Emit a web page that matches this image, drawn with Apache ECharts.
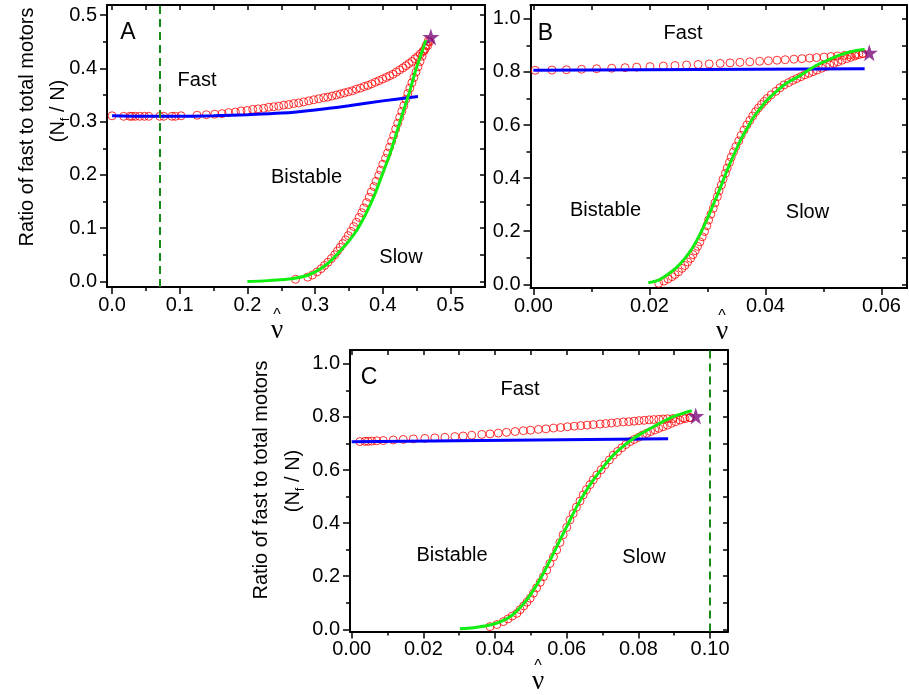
<!DOCTYPE html>
<html><head><meta charset="utf-8">
<script src="https://cdn.jsdelivr.net/npm/echarts@6/dist/echarts.min.js"></script>
<style>html,body{margin:0;padding:0;background:#fff}#c{width:909px;height:695px}</style>
</head><body><div id="c"></div>
<script>
// ---------------- DATA ----------------
// Panel A
const A_UPPER_V = [0,0.0172,0.0261,0.0295,0.0345,0.0409,0.0478,0.0542,0.0704,0.0763,0.0886,0.0936,0.1019,0.1256,0.1393,0.1517,0.1625,0.1723,0.1822,0.1905,0.1994,0.2078,0.2157,0.2240,0.2314,0.2388,0.2462,0.2536,0.2610,0.2683,0.2757,0.2831,0.2905,0.2979,0.3053,0.3127,0.3186,0.3250,0.3314,0.3373,0.3432,0.3491,0.3550,0.3609,0.3668,0.3727,0.3781,0.3836,0.3890,0.3944,0.3998,0.4052,0.4101,0.4151,0.4200,0.4249,0.4298,0.4343,0.4387,0.4431,0.4476,0.4515,0.4554,0.4594,0.4628,0.4663,0.4690];
const A_UPPER_Y = [0.311,0.310,0.310,0.310,0.310,0.310,0.310,0.310,0.310,0.310,0.310,0.310,0.311,0.312,0.313,0.314,0.315,0.317,0.318,0.320,0.321,0.323,0.324,0.325,0.327,0.328,0.329,0.331,0.332,0.334,0.335,0.337,0.339,0.341,0.343,0.345,0.346,0.348,0.350,0.352,0.354,0.356,0.358,0.361,0.363,0.366,0.368,0.371,0.374,0.377,0.380,0.383,0.386,0.389,0.393,0.397,0.401,0.405,0.409,0.413,0.418,0.422,0.427,0.432,0.437,0.443,0.450];
const A_LOWER_V = [0.271,0.289,0.296,0.303,0.309,0.314,0.319,0.324,0.329,0.333,0.337,0.341,0.345,0.349,0.353,0.357,0.361,0.365,0.369,0.372,0.376,0.380,0.383,0.387,0.390,0.394,0.397,0.400,0.404,0.407,0.410,0.413,0.416,0.419,0.422,0.425,0.428,0.431,0.434,0.437,0.440,0.443,0.446,0.449,0.452,0.455,0.458,0.461,0.464,0.467];
const A_LOWER_Y = [0.004,0.008,0.012,0.018,0.024,0.030,0.036,0.043,0.050,0.057,0.064,0.071,0.078,0.086,0.094,0.103,0.111,0.120,0.129,0.138,0.148,0.158,0.168,0.178,0.188,0.199,0.209,0.220,0.231,0.241,0.252,0.263,0.274,0.286,0.297,0.308,0.319,0.330,0.342,0.353,0.363,0.373,0.383,0.393,0.403,0.413,0.423,0.433,0.443,0.451];
const A_GREEN_V = [0.200,0.225,0.249,0.270,0.288,0.300,0.312,0.325,0.337,0.350,0.362,0.375,0.387,0.399,0.411,0.421,0.431,0.440,0.448,0.456,0.4636];
const A_GREEN_Y = [0.000,0.001,0.003,0.006,0.011,0.018,0.027,0.041,0.057,0.076,0.097,0.127,0.160,0.200,0.241,0.282,0.322,0.358,0.394,0.424,0.453];
const A_BLUE_V = [0,0.05,0.10,0.15,0.20,0.25,0.30,0.35,0.40,0.452];
const A_BLUE_Y = [0.311,0.310,0.310,0.311,0.313,0.316,0.322,0.330,0.339,0.347];
const A_STAR = [0.471, 0.459];
const A_DASH = 0.066;

// Panel B
const B_UPPER_V = [0.0003,0.0032,0.0057,0.0083,0.0109,0.0135,0.0158,0.0178,0.0201,0.0224,0.0244,0.0264,0.0284,0.0303,0.0322,0.0339,0.0356,0.0373,0.0390,0.0405,0.0420,0.0434,0.0449,0.0463,0.0476,0.0488,0.0501,0.0513,0.0524,0.0536,0.0546,0.0556,0.0567];
const B_UPPER_Y = [0.806,0.807,0.808,0.810,0.812,0.814,0.816,0.818,0.820,0.822,0.824,0.826,0.828,0.830,0.832,0.834,0.836,0.838,0.840,0.842,0.844,0.846,0.848,0.850,0.852,0.854,0.856,0.858,0.860,0.862,0.864,0.866,0.869];
const B_LOWER_V = [0.0216,0.0225,0.0232,0.0239,0.0244,0.0250,0.0256,0.0261,0.0266,0.0271,0.0275,0.0279,0.0283,0.0287,0.0291,0.0295,0.0299,0.0302,0.0306,0.0310,0.0313,0.0317,0.0320,0.0324,0.0327,0.0331,0.0334,0.0338,0.0341,0.0345,0.0349,0.0354,0.0358,0.0363,0.0368,0.0373,0.0378,0.0383,0.0388,0.0393,0.0398,0.0403,0.0410,0.0418,0.0425,0.0432,0.0440,0.0447,0.0454,0.0461,0.0468,0.0475,0.0482,0.0489,0.0497,0.0504,0.0511,0.0518,0.0525,0.0532,0.0540,0.0547,0.0554,0.0561,0.0568];
const B_LOWER_Y = [0.004,0.012,0.020,0.029,0.037,0.047,0.060,0.071,0.084,0.098,0.112,0.127,0.143,0.160,0.179,0.199,0.221,0.242,0.264,0.286,0.307,0.330,0.352,0.374,0.396,0.418,0.438,0.459,0.479,0.499,0.519,0.540,0.561,0.581,0.600,0.617,0.634,0.650,0.664,0.677,0.689,0.700,0.714,0.727,0.740,0.751,0.760,0.768,0.775,0.782,0.789,0.795,0.801,0.807,0.814,0.820,0.826,0.832,0.838,0.844,0.850,0.855,0.860,0.865,0.869];
const B_GREEN_V = [0.0198,0.0215,0.0230,0.0245,0.0259,0.0274,0.0288,0.0300,0.0311,0.0323,0.0334,0.0346,0.0357,0.0369,0.0380,0.0392,0.0403,0.0418,0.0432,0.0447,0.0461,0.0475,0.0489,0.0504,0.0518,0.0532,0.0547,0.0571];
const B_GREEN_Y = [0.006,0.015,0.035,0.060,0.092,0.137,0.192,0.248,0.305,0.368,0.430,0.490,0.543,0.590,0.631,0.665,0.694,0.725,0.751,0.771,0.788,0.808,0.826,0.841,0.855,0.866,0.876,0.885];
const B_BLUE_V = [0, 0.0571];
const B_BLUE_Y = [0.806, 0.812];
const B_STAR = [0.0579, 0.872];

// Panel C
const C_UPPER_V = [0.0023,0.0037,0.0046,0.0056,0.0070,0.0088,0.0116,0.0144,0.0172,0.0204,0.0232,0.0260,0.0288,0.0311,0.0335,0.0363,0.0386,0.0409,0.0432,0.0456,0.0479,0.0499,0.0521,0.0542,0.0563,0.0583,0.0602,0.0621,0.0639,0.0657,0.0674,0.0693,0.0709,0.0725,0.0741,0.0758,0.0773,0.0788,0.0802,0.0816,0.0830,0.0843,0.0857,0.0869,0.0881,0.0897,0.0925,0.0944];
const C_UPPER_Y = [0.707,0.708,0.708,0.709,0.710,0.711,0.713,0.715,0.717,0.719,0.721,0.723,0.726,0.728,0.731,0.734,0.736,0.739,0.742,0.745,0.748,0.750,0.753,0.755,0.758,0.760,0.763,0.765,0.767,0.769,0.771,0.773,0.775,0.777,0.779,0.781,0.782,0.784,0.786,0.787,0.789,0.790,0.791,0.792,0.793,0.794,0.796,0.798];
const C_LOWER_V = [0.0386,0.0405,0.0423,0.0436,0.0448,0.0461,0.0470,0.0480,0.0489,0.0498,0.0507,0.0516,0.0526,0.0535,0.0544,0.0553,0.0563,0.0572,0.0581,0.0590,0.0600,0.0609,0.0618,0.0627,0.0637,0.0646,0.0655,0.0665,0.0674,0.0684,0.0696,0.0707,0.0719,0.0730,0.0742,0.0754,0.0765,0.0777,0.0788,0.0800,0.0811,0.0823,0.0834,0.0846,0.0857,0.0869,0.0881,0.0892,0.0904,0.0916,0.0930,0.0944];
const C_LOWER_Y = [0.010,0.018,0.029,0.039,0.050,0.060,0.074,0.088,0.102,0.117,0.136,0.156,0.177,0.198,0.223,0.248,0.273,0.299,0.327,0.356,0.384,0.412,0.436,0.460,0.483,0.506,0.526,0.545,0.563,0.581,0.601,0.620,0.638,0.656,0.670,0.684,0.696,0.707,0.715,0.723,0.731,0.738,0.745,0.751,0.757,0.763,0.769,0.776,0.782,0.788,0.793,0.797];
const C_GREEN_V = [0.0302,0.0340,0.0386,0.0414,0.0442,0.0465,0.0488,0.0512,0.0535,0.0558,0.0581,0.0605,0.0628,0.0651,0.0674,0.0702,0.0730,0.0758,0.0786,0.0814,0.0842,0.0870,0.0897,0.0923,0.0949];
const C_GREEN_Y = [0.002,0.006,0.016,0.028,0.047,0.075,0.110,0.158,0.211,0.272,0.336,0.400,0.462,0.515,0.562,0.612,0.656,0.690,0.719,0.742,0.763,0.783,0.801,0.813,0.823];
const C_BLUE_V = [0, 0.0883];
const C_BLUE_Y = [0.706, 0.718];
const C_STAR = [0.0960, 0.803];
const C_DASH = 0.10;

// Tick values
const A_X_MAJOR = [0,0.1,0.2,0.3,0.4,0.5];
const A_X_MINOR = [0.05,0.15,0.25,0.35,0.45];
const A_Y_MAJOR = [0,0.1,0.2,0.3,0.4,0.5];
const A_Y_MINOR = [0.05,0.15,0.25,0.35,0.45];
const B_X_MAJOR = [0,0.02,0.04,0.06];
const B_X_MINOR = [0.01,0.03,0.05];
const BC_Y_MAJOR = [0,0.2,0.4,0.6,0.8,1.0];
const BC_Y_MINOR = [0.1,0.3,0.5,0.7,0.9];
const C_X_MAJOR = [0,0.02,0.04,0.06,0.08,0.10];
const C_X_MINOR = [0.01,0.03,0.05,0.07,0.09];

// Texts
const Y_TITLE_1 = 'Ratio of fast to total motors';
const REGION_LABELS = ['Fast','Bistable','Slow'];
const PANEL_LETTERS = ['A','B','C'];

// ---------------- CHART ----------------
const FONT = '"Liberation Sans", Arial, sans-serif';
const SERIF = '"Liberation Serif", "DejaVu Serif", serif';
const pairs = (xs, ys) => xs.map((x, i) => [x, ys[i]]);

const RED = '#ff0000', BLUE = '#0000ff', GREEN = '#11ee11', DASHC = '#178a17', STAR = '#7a0a7a';
const STAR_PATH = 'path://M50,0 L61.8,35.4 L99,35.4 L69,57.3 L80.4,92.7 L50,70.8 L19.6,92.7 L31,57.3 L1,35.4 L38.2,35.4 Z';

const grids = [
  {left:107, top:5, width:378, height:282},
  {left:530.5, top:5, width:376.5, height:283},
  {left:350, top:350, width:378, height:281.5}
];
const panels = [
  {xr:[-0.0075,0.551], yr:[-0.0105,0.5190], xMaj:A_X_MAJOR, xMin:A_X_MINOR, yMaj:A_Y_MAJOR, yMin:A_Y_MINOR, xDec:1},
  {xr:[-0.0005,0.0644], yr:[-0.0139,1.052], xMaj:B_X_MAJOR, xMin:B_X_MINOR, yMaj:BC_Y_MAJOR, yMin:BC_Y_MINOR, xDec:2},
  {xr:[-0.00047,0.105], yr:[-0.0083,1.052], xMaj:C_X_MAJOR, xMin:C_X_MINOR, yMaj:BC_Y_MAJOR, yMin:BC_Y_MINOR, xDec:2}
];

const line2 = {color:'#000', width:2};
const xAxes = [], yAxes = [];
panels.forEach((p, g) => {
  const base = {gridIndex:g, type:'value', splitLine:{show:false}};
  xAxes.push(
    Object.assign({}, base, {position:'bottom', min:p.xr[0], max:p.xr[1],
      axisLine:{show:true, onZero:false, lineStyle:line2},
      axisTick:{show:true, inside:false, length:7, customValues:p.xMaj, lineStyle:{color:'#000', width:1.5}},
      axisLabel:{show:true, customValues:p.xMaj, margin:8, color:'#000', fontSize:20, fontFamily:FONT,
        formatter:(v) => Number(v).toFixed(p.xDec)}}),
    Object.assign({}, base, {position:'bottom', min:p.xr[0], max:p.xr[1],
      axisLine:{show:false, onZero:false},
      axisTick:{show:true, inside:false, length:4, customValues:p.xMin, lineStyle:{color:'#000', width:1.5}},
      axisLabel:{show:false}}),
    Object.assign({}, base, {position:'top', min:p.xr[0], max:p.xr[1],
      axisLine:{show:true, onZero:false, lineStyle:line2},
      axisTick:{show:true, inside:true, length:5, customValues:p.xMaj.concat(p.xMin), lineStyle:{color:'#000', width:1.5}},
      axisLabel:{show:false}})
  );
  yAxes.push(
    Object.assign({}, base, {position:'left', min:p.yr[0], max:p.yr[1],
      axisLine:{show:true, onZero:false, lineStyle:line2},
      axisTick:{show:true, inside:false, length:7, customValues:p.yMaj, lineStyle:{color:'#000', width:1.5}},
      axisLabel:{show:true, customValues:p.yMaj, margin:10, color:'#000', fontSize:20, fontFamily:FONT,
        formatter:(v) => Number(v).toFixed(1)}}),
    Object.assign({}, base, {position:'left', min:p.yr[0], max:p.yr[1],
      axisLine:{show:false, onZero:false},
      axisTick:{show:true, inside:false, length:4, customValues:p.yMin, lineStyle:{color:'#000', width:1.5}},
      axisLabel:{show:false}}),
    Object.assign({}, base, {position:'right', min:p.yr[0], max:p.yr[1],
      axisLine:{show:true, onZero:false, lineStyle:line2},
      axisTick:{show:true, inside:true, length:5, customValues:p.yMaj.concat(p.yMin), lineStyle:{color:'#000', width:1.5}},
      axisLabel:{show:false}})
  );
});

const panelData = [
  {upper:pairs(A_UPPER_V,A_UPPER_Y), lower:pairs(A_LOWER_V,A_LOWER_Y), green:pairs(A_GREEN_V,A_GREEN_Y), blue:pairs(A_BLUE_V,A_BLUE_Y), star:A_STAR, dash:A_DASH},
  {upper:pairs(B_UPPER_V,B_UPPER_Y), lower:pairs(B_LOWER_V,B_LOWER_Y), green:pairs(B_GREEN_V,B_GREEN_Y), blue:pairs(B_BLUE_V,B_BLUE_Y), star:B_STAR, dash:null},
  {upper:pairs(C_UPPER_V,C_UPPER_Y), lower:pairs(C_LOWER_V,C_LOWER_Y), green:pairs(C_GREEN_V,C_GREEN_Y), blue:pairs(C_BLUE_V,C_BLUE_Y), star:C_STAR, dash:C_DASH}
];

const series = [];
panelData.forEach((d, g) => {
  const ax = {xAxisIndex:g*3, yAxisIndex:g*3};
  const circ = {type:'scatter', symbol:'circle', symbolSize:8, silent:true,
    itemStyle:{color:'rgba(0,0,0,0)', borderColor:RED, borderWidth:1}, z:2};
  series.push(Object.assign({}, ax, circ, {data:d.upper}));
  series.push(Object.assign({}, ax, circ, {data:d.lower}));
  series.push(Object.assign({}, ax, {type:'line', data:d.blue, showSymbol:false, smooth:0.3, silent:true,
    lineStyle:{color:BLUE, width:3}, z:3,
    markLine: d.dash == null ? undefined : {silent:true, symbol:['none','none'], label:{show:false},
      lineStyle:{color:DASHC, type:[8,5], width:2}, data:[{xAxis:d.dash}]}}));
  series.push(Object.assign({}, ax, {type:'line', data:d.green, showSymbol:false, smooth:0.3, silent:true,
    lineStyle:{color:GREEN, width:3}, z:4}));
  series.push(Object.assign({}, ax, {type:'scatter', data:[d.star], symbol:STAR_PATH, symbolSize:17, silent:true,
    itemStyle:{color:STAR}, z:6}));
});

// ---------------- TEXT ----------------
const ctx = document.createElement('canvas').getContext('2d');
function tw(s, size){ ctx.font = size + 'px "Liberation Sans"'; return ctx.measureText(s).width; }

function txt(s, x, y, size, family){
  return {type:'text', x:x, y:y, silent:true, style:{text:s, fontSize:size, fontFamily:family||FONT, fill:'#000', align:'center', verticalAlign:'middle'}};
}
function yTitle(x1, y1, x2, y2){
  const s = 20, a = '(N', f = 'f', b = ' / N)';
  const wa = tw(a, s), wf = tw(f, 13), wb = tw(b, s);
  const x0 = -(wa + wf + wb) / 2;
  const mk = (t, lx, ly, sz) => ({type:'text', x:lx, y:ly, silent:true,
    style:{text:t, fontSize:sz, fontFamily:FONT, fill:'#000', align:'left', verticalAlign:'middle'}});
  return [
    {type:'text', x:x1, y:y1, rotation:Math.PI/2, silent:true,
      style:{text:Y_TITLE_1, fontSize:s, fontFamily:FONT, fill:'#000', align:'center', verticalAlign:'middle'}},
    {type:'group', x:x2, y:y2, rotation:Math.PI/2, silent:true, children:[
      mk(a, x0, 0, s), mk(f, x0 + wa, 7, 13), mk(b, x0 + wa + wf, 0, s)
    ]}
  ];
}
function nuHat(x, y){
  return [txt('^', x, y - 15, 16), txt('ν', x, y, 27, SERIF)];
}

const graphic = [].concat(
  yTitle(27, 127, 58, 111),
  yTitle(261, 480, 293, 481),
  nuHat(277, 331), nuHat(722, 332), nuHat(538, 682),
  [
    txt(PANEL_LETTERS[0], 128, 33, 23), txt(PANEL_LETTERS[1], 545.5, 33.5, 23), txt(PANEL_LETTERS[2], 369, 377.5, 23),
    txt(REGION_LABELS[0], 197, 80, 20), txt(REGION_LABELS[1], 306.5, 177.5, 20), txt(REGION_LABELS[2], 401, 257.5, 20),
    txt(REGION_LABELS[0], 683, 33.5, 20), txt(REGION_LABELS[1], 605.5, 210.5, 20), txt(REGION_LABELS[2], 807.5, 212.5, 20),
    txt(REGION_LABELS[0], 520, 389, 20), txt(REGION_LABELS[1], 452, 555, 20), txt(REGION_LABELS[2], 644, 557.5, 20)
  ]
);

const chart = echarts.init(document.getElementById('c'), null, {renderer:'canvas'});
chart.setOption({
  animation:false,
  backgroundColor:'#ffffff',
  grid: grids.map(gr => Object.assign({containLabel:false, outerBoundsMode:'none'}, gr)),
  xAxis: xAxes,
  yAxis: yAxes,
  series: series,
  graphic: graphic
});
</script></body></html>
